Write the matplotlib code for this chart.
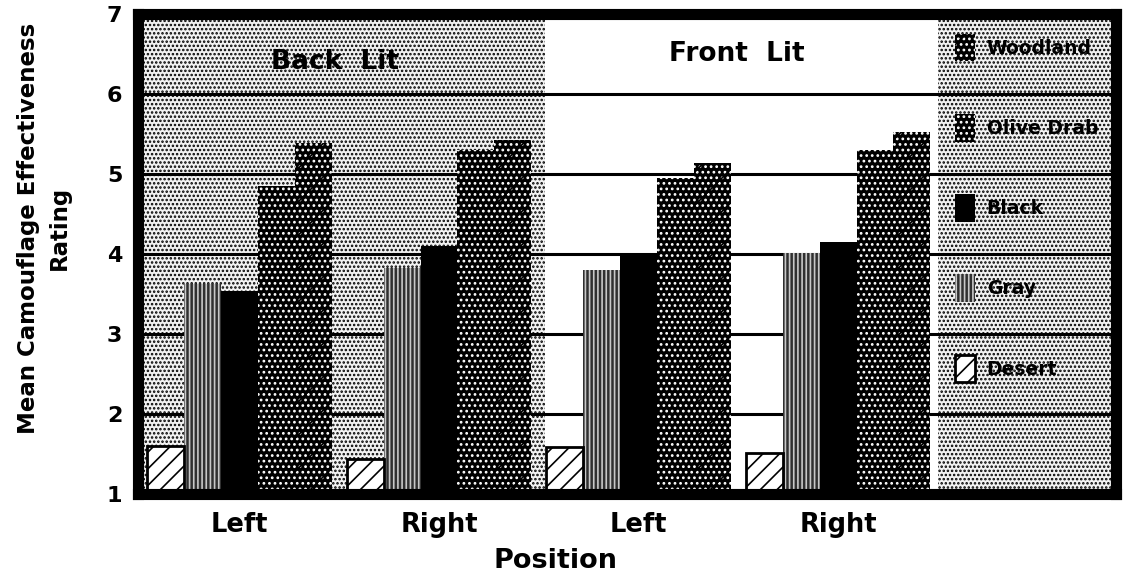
import matplotlib
matplotlib.use('Agg')
import matplotlib.pyplot as plt
import numpy as np
from matplotlib.legend_handler import HandlerTuple

# ---------------- data ----------------
positions = ['Left', 'Right', 'Left', 'Right']
conditions = ['Back  Lit', 'Front  Lit']
series = ['Desert', 'Gray', 'Black', 'Olive Drab', 'Woodland']
desert = [1.60, 1.43, 1.58, 1.51]
gray = [3.62, 3.82, 3.79, 4.01]
black = [3.53, 4.10, 4.00, 4.14]
olive_drab = [4.85, 5.29, 4.94, 5.30]
woodland = [5.38, 5.42, 5.13, 5.52]
values = [desert, gray, black, olive_drab, woodland]
yticks = [1, 2, 3, 4, 5, 6, 7]

# ---------------- styles ----------------
# (face, base hatch, base hatch colour, overlay hatch, overlay edge lw)
styles = {
    'Desert':     ('white',   '',      'black', '//',  2.0),
    'Gray':       ('#303030', '||||',  '#c8c8c8', '',  0.0),
    'Black':      ('black',   '',      'black', '',    0.0),
    'Olive Drab': ('black',   '...',   'white', '',    0.0),
    'Woodland':   ('black',   '...',   'white', '/',   0.0),
}

plt.rcParams['font.family'] = ['DejaVu Sans']
plt.rcParams['font.weight'] = 'bold'
plt.rcParams['hatch.linewidth'] = 1.2

fig = plt.figure(figsize=(11.24, 5.84), dpi=100)
L, R, B, T = 137.5 / 1124, 1116 / 1124, 1 - 493.5 / 584, 1 - 13.5 / 584
ax = fig.add_axes([L, B, R - L, T - B])

x = np.arange(len(positions))
width = 0.185
xmin, xmax = -0.511, 4.393
ax.set_xlim(xmin, xmax)
ax.set_ylim(1, 7)

# background panels (stippled)
for a, b in [(xmin, 1.53), (3.5, xmax)]:
    ax.axvspan(a, b, facecolor='#f2f2f2', edgecolor='black', hatch='....',
               linewidth=0, zorder=0.1)

ax.set_axisbelow(True)
ax.yaxis.grid(True, color='black', linewidth=2.2)
ax.xaxis.grid(False)

handles = []
for i, (name, vals) in enumerate(zip(series, values)):
    face, h1, hc, h2, lw = styles[name]
    xs = x + (i - 2) * width
    b1 = ax.bar(xs, vals, width, color=face, edgecolor=hc, hatch=h1,
                linewidth=0, zorder=2)
    parts = [b1.patches[0]]
    if h2 or lw:
        b2 = ax.bar(xs, vals, width, fill=False, edgecolor='black',
                    hatch=h2, linewidth=lw, zorder=2.1)
        parts.append(b2.patches[0])
    handles.append(tuple(parts))

# panel titles
ax.text(0.479, 6.39, conditions[0], ha='center', va='center',
        fontsize=19, fontweight='bold', zorder=3)
ax.text(2.494, 6.49, conditions[1], ha='center', va='center',
        fontsize=19, fontweight='bold', zorder=3)

# legend (top to bottom: Woodland ... Desert)
leg = ax.legend(handles[::-1], series[::-1],
                handler_map={tuple: HandlerTuple(ndivide=1, pad=0)},
                loc='upper left', bbox_to_anchor=(0.8355, 0.958),
                frameon=False, borderpad=0, borderaxespad=0,
                handlelength=1.07, handleheight=1.9, labelspacing=2.8,
                handletextpad=0.62,
                prop={'size': 13.5, 'weight': 'bold'})
leg.set_zorder(4)

# ticks
ax.set_xticks(x)
ax.set_xticklabels(positions, fontsize=18.5, fontweight='bold')
ax.set_yticks(yticks)
ax.set_yticklabels([str(v) for v in yticks], fontsize=16, fontweight='bold')
ax.tick_params(axis='both', length=0)
ax.tick_params(axis='x', pad=13)
ax.tick_params(axis='y', pad=11)

for s in ax.spines.values():
    s.set_linewidth(8)
    s.set_color('black')
    s.set_capstyle('projecting')
    s.set_zorder(5)

ax.set_xlabel('Position', fontsize=19.5, fontweight='bold')
ax.xaxis.set_label_coords((556 - 137.5) / 978.5, (493.5 - 548) / 480)

fig.text(44 / 1124, 1 - 228 / 584, 'Mean Camouflage Effectiveness\nRating',
         rotation=90, ha='center', va='center', multialignment='center',
         fontsize=16.5, fontweight='bold', linespacing=1.4)

fig.savefig('out.png', dpi=100)
